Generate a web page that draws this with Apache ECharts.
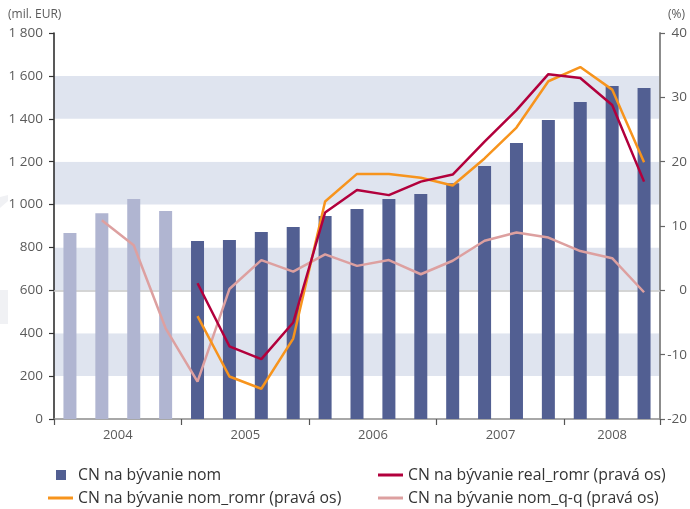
<!DOCTYPE html>
<html>
<head>
<meta charset="utf-8">
<script src="https://cdn.jsdelivr.net/npm/echarts@6/dist/echarts.min.js"></script>
<style>
  html, body { margin: 0; padding: 0; background: #ffffff; }
  #chart { width: 690px; height: 509px; }
</style>
</head>
<body>
<div id="chart"></div>
<script>
// Quarterly categories, 2004 Q1 – 2008 Q3
const quarters = [
  '2004 Q1', '2004 Q2', '2004 Q3', '2004 Q4',
  '2005 Q1', '2005 Q2', '2005 Q3', '2005 Q4',
  '2006 Q1', '2006 Q2', '2006 Q3', '2006 Q4',
  '2007 Q1', '2007 Q2', '2007 Q3', '2007 Q4',
  '2008 Q1', '2008 Q2', '2008 Q3'
];

// Housing loans, nominal stock (mil. EUR) – left axis
const housingNom = [867, 959, 1026, 970, 830, 835, 872, 895, 947, 979, 1026, 1049, 1099, 1180, 1287, 1394, 1478, 1553, 1544];

// Year-on-year real growth (%) – right axis
const realRomr = [null, null, null, null, 1.1, -8.7, -10.7, -5.0, 12.1, 15.6, 14.8, 16.9, 18.0, 23.1, 28.0, 33.6, 33.0, 28.8, 16.9];

// Year-on-year nominal growth (%) – right axis
const nomRomr = [null, null, null, null, -4.0, -13.4, -15.3, -7.5, 13.8, 18.1, 18.1, 17.5, 16.3, 20.5, 25.3, 32.5, 34.7, 31.2, 19.9];

// Quarter-on-quarter nominal growth (%) – right axis
const nomQq = [null, 10.9, 7.0, -5.9, -14.2, 0.2, 4.7, 2.9, 5.6, 3.8, 4.7, 2.5, 4.6, 7.7, 9.0, 8.2, 6.1, 5.0, -0.3];

// Quarters of 2004 are shown in a lighter tone
const lightQuarters = 4;

const names = {
  nom: 'CN na bývanie nom',
  real: 'CN na bývanie real_romr (pravá os)',
  romr: 'CN na bývanie nom_romr (pravá os)',
  qq: 'CN na bývanie nom_q-q (pravá os)'
};

const colors = {
  bar: '#525f92',
  barLight: '#b0b5d1',
  band: '#dfe4ef',
  real: '#b2003c',
  romr: '#f7941d',
  qq: '#dda0a0'
};

// Year labels placed at the centre of each year's run of quarters
const yearCenters = {};
(function () {
  const counts = {};
  const starts = {};
  quarters.forEach(function (q, i) {
    const y = q.slice(0, 4);
    if (!(y in counts)) { counts[y] = 0; starts[y] = i; }
    counts[y]++;
  });
  Object.keys(counts).forEach(function (y) {
    yearCenters[(starts[y] + counts[y] / 2).toFixed(1)] = y;
  });
})();

const fontFamily = '"Open Sans", "Noto Sans", sans-serif';
const labelColor = '#5a5a5a';

function spaced(v) {
  return String(v).replace(/\B(?=(\d{3})+(?!\d))/g, ' ');
}

const chart = echarts.init(document.getElementById('chart'), null, { renderer: 'canvas' });

const legendText = { color: '#333333', fontSize: 15.8, fontFamily: fontFamily };

function lineLegend(name, color, left, top) {
  return {
    data: [{ name: name, icon: 'rect', itemStyle: { color: color } }],
    left: left, top: top, padding: 0, itemWidth: 25, itemHeight: 3,
    textStyle: legendText, selectedMode: false
  };
}

chart.setOption({
  animation: false,
  textStyle: { fontFamily: fontFamily },
  grid: { left: 54, right: 28, top: 33, bottom: 90, containLabel: false },
  graphic: [
    { type: 'rect', shape: { x: 0, y: 290, width: 8, height: 34 }, style: { fill: '#f0f1f4' }, silent: true },
    { type: 'polygon', shape: { points: [[0, 197], [8, 195], [8, 201], [0, 208]] }, style: { fill: '#f0f1f4' }, silent: true }
  ],
  legend: [
    {
      data: [{ name: names.nom, icon: 'path://M0,0H10V10H0Z', itemStyle: { color: colors.bar } }],
      left: 56, top: 467, padding: 0, itemWidth: 24, itemHeight: 10, textStyle: legendText, selectedMode: false
    },
    lineLegend(names.romr, colors.romr, 48, 490),
    lineLegend(names.real, colors.real, 378, 467),
    lineLegend(names.qq, colors.qq, 378, 490)
  ],
  xAxis: [
    {
      type: 'category',
      data: quarters,
      boundaryGap: true,
      position: 'bottom',
      axisLine: { show: true, onZero: false, lineStyle: { color: '#8c8c8c', width: 1.5 } },
      axisTick: {
        show: true,
        length: 6,
        interval: function (i) { return i % 4 === 0; },
        lineStyle: { color: '#555555', width: 1.2 }
      },
      axisLabel: { show: false },
      splitLine: { show: false }
    },
    {
      type: 'value',
      min: 0,
      max: quarters.length,
      interval: 0.5,
      position: 'bottom',
      axisLine: { show: false },
      axisTick: { show: false },
      splitLine: { show: false },
      axisLabel: {
        show: true,
        margin: 10,
        color: labelColor,
        fontSize: 13,
        showMinLabel: true,
        showMaxLabel: true,
        formatter: function (v) {
          const key = Number(v).toFixed(1);
          return yearCenters[key] || '';
        }
      }
    },
    {
      type: 'category',
      data: quarters,
      position: 'top',
      axisLine: { show: true, lineStyle: { color: '#c8c8c8', width: 1.5 } },
      axisTick: { show: false },
      axisLabel: { show: false },
      splitLine: { show: false }
    }
  ],
  yAxis: [
    {
      type: 'value',
      min: 0,
      max: 1800,
      interval: 200,
      position: 'left',
      name: '(mil. EUR)',
      nameLocation: 'end',
      nameGap: 12,
      nameTextStyle: { color: labelColor, fontSize: 12, align: 'left', padding: [0, 0, 0, -46] },
      axisLine: { show: true, lineStyle: { color: '#222222', width: 1.5 } },
      axisTick: { show: true, length: 5, inside: false, lineStyle: { color: '#333333', width: 1.2 } },
      axisLabel: { color: labelColor, fontSize: 13.5, margin: 11, formatter: spaced },
      splitLine: { show: false },
      splitArea: { show: true, areaStyle: { color: ['#ffffff', colors.band] } }
    },
    {
      type: 'value',
      min: -20,
      max: 40,
      interval: 10,
      position: 'right',
      name: '(%)',
      nameLocation: 'end',
      nameGap: 12,
      nameTextStyle: { color: labelColor, fontSize: 12, align: 'left', padding: [0, 0, 0, 8] },
      axisLine: { show: true, lineStyle: { color: '#8c8c8c', width: 2 } },
      axisTick: { show: true, length: 5, lineStyle: { color: '#666666', width: 1.2 } },
      axisLabel: { color: labelColor, fontSize: 13.5, margin: 27, align: 'right' },
      splitLine: { show: false }
    }
  ],
  series: [
    {
      name: names.nom,
      type: 'bar',
      xAxisIndex: 0,
      yAxisIndex: 0,
      barWidth: 13,
      data: housingNom,
      itemStyle: {
        color: function (p) { return p.dataIndex < lightQuarters ? colors.barLight : colors.bar; }
      },
      z: 2
    },
    {
      name: names.qq,
      type: 'line',
      xAxisIndex: 0,
      yAxisIndex: 1,
      data: nomQq,
      symbol: 'none',
      lineStyle: { color: colors.qq, width: 2.5 },
      itemStyle: { color: colors.qq },
      z: 3
    },
    {
      name: names.romr,
      type: 'line',
      xAxisIndex: 0,
      yAxisIndex: 1,
      data: nomRomr,
      symbol: 'none',
      lineStyle: { color: colors.romr, width: 2.5 },
      itemStyle: { color: colors.romr },
      z: 4
    },
    {
      name: names.real,
      type: 'line',
      xAxisIndex: 0,
      yAxisIndex: 1,
      data: realRomr,
      symbol: 'none',
      lineStyle: { color: colors.real, width: 2.5 },
      itemStyle: { color: colors.real },
      z: 5
    }
  ]
});
</script>
</body>
</html>
